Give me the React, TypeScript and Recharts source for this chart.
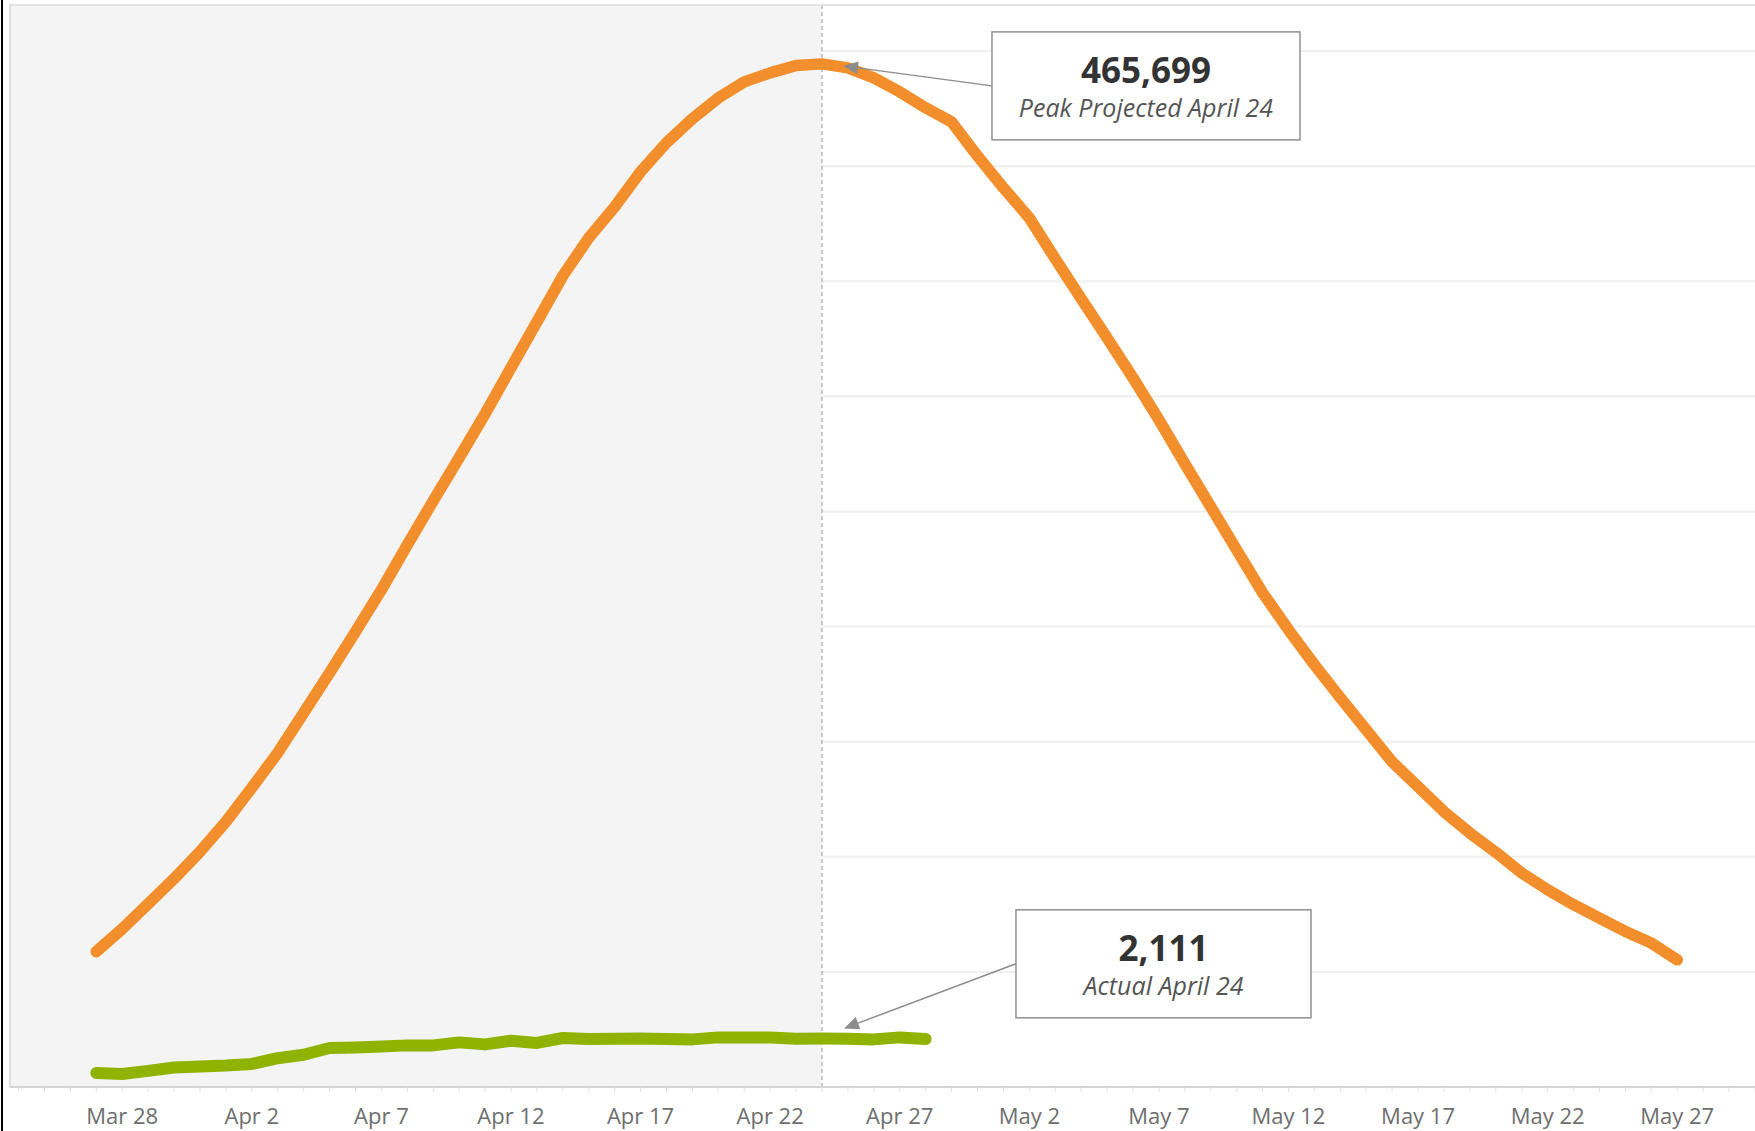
import { CartesianGrid, ComposedChart, Line, ReferenceArea, ReferenceDot, ReferenceLine, XAxis, YAxis } from 'recharts'

const dates = [
  'Mar 27', 'Mar 28', 'Mar 29', 'Mar 30', 'Mar 31',
  'Apr 1', 'Apr 2', 'Apr 3', 'Apr 4', 'Apr 5', 'Apr 6', 'Apr 7', 'Apr 8', 'Apr 9', 'Apr 10',
  'Apr 11', 'Apr 12', 'Apr 13', 'Apr 14', 'Apr 15', 'Apr 16', 'Apr 17', 'Apr 18', 'Apr 19', 'Apr 20',
  'Apr 21', 'Apr 22', 'Apr 23', 'Apr 24', 'Apr 25', 'Apr 26', 'Apr 27', 'Apr 28', 'Apr 29', 'Apr 30',
  'May 1', 'May 2', 'May 3', 'May 4', 'May 5', 'May 6', 'May 7', 'May 8', 'May 9', 'May 10',
  'May 11', 'May 12', 'May 13', 'May 14', 'May 15', 'May 16', 'May 17', 'May 18', 'May 19', 'May 20',
  'May 21', 'May 22', 'May 23', 'May 24', 'May 25', 'May 26', 'May 27',
]

// projected curve (orange), own hidden axis
const projected = [
  61600, 72000, 83400, 94800, 107100,
  120700, 136200, 152100, 170300, 188500, 207200, 226300, 246800, 266800, 286400,
  306400, 327400, 348300, 369200, 386500, 400600, 416600, 429800, 440700, 450200,
  457500, 461600, 465000, 465699, 463900, 459300, 453000, 445700, 439300, 423800,
  409300, 395600, 377000, 358800, 341000, 322800, 303700, 283700, 264100, 244500,
  225000, 208100, 192200, 177200, 162600, 148000, 136700, 125300, 115600, 106800,
  97400, 89800, 83000, 76900, 70800, 65500, 57900,
]

// actual (green), Mar 27 - Apr 28
const actual = [
  608, 565, 700, 850, 890,
  930, 1000, 1250, 1400, 1695, 1721, 1764, 1808, 1808, 1938,
  1851, 2012, 1912, 2129, 2086, 2099, 2112, 2086, 2068, 2155,
  2155, 2155, 2099, 2111, 2099, 2068, 2155, 2086,
]

const tickLabels = ['Mar 28', 'Apr 2', 'Apr 7', 'Apr 12', 'Apr 17', 'Apr 22', 'Apr 27', 'May 2', 'May 7', 'May 12', 'May 17', 'May 22', 'May 27']
const gridValues = [5000, 10000, 15000, 20000, 25000, 30000, 35000, 40000, 45000]

const peakDate = 'Apr 24'
const peakCaption = 'Peak Projected April 24'
const actualCaption = 'Actual April 24'

const data = dates.map((date, i) => ({
  day: i,
  date,
  projected: projected[i],
  actual: i < actual.length ? actual[i] : null,
}))

const peakDay = dates.indexOf(peakDate)
const dayTicks = Array.from({ length: 68 }, (_, i) => i - 3)

const ORANGE = '#f28e2b'
const GREEN = '#8fb300'
const ARROW = '#8c8c8c'

interface CalloutProps {
  cx: number
  cy: number
  boxDx: number
  boxDy: number
  width: number
  height: number
  tipDx: number
  tipDy: number
  value: string
  caption: string
}

function Callout({ cx, cy, boxDx, boxDy, width, height, tipDx, tipDy, value, caption }: CalloutProps) {
  const bx = cx + boxDx
  const by = cy + boxDy
  const sx = bx
  const sy = by + height / 2
  const tx = cx + tipDx
  const ty = cy + tipDy
  const ang = Math.atan2(ty - sy, tx - sx)
  const len = 15
  const half = 6.5
  const baseX = tx - len * Math.cos(ang)
  const baseY = ty - len * Math.sin(ang)
  const px = -Math.sin(ang) * half
  const py = Math.cos(ang) * half
  return (
    <g>
      <line x1={sx} y1={sy} x2={baseX} y2={baseY} stroke={ARROW} strokeWidth={1.5} />
      <polygon points={`${tx},${ty} ${baseX + px},${baseY + py} ${baseX - px},${baseY - py}`} fill={ARROW} />
      <rect x={bx} y={by} width={width} height={height} fill="#fff" stroke="#8f8f8f" strokeWidth={1.5} />
      <text x={bx + width / 2} y={by + 51} textAnchor="middle" fontSize={35} fontWeight={700} fill="#333">
        {value}
      </text>
      <text x={bx + width / 2} y={by + 85} textAnchor="middle" fontSize={25} fontStyle="italic" fill="#555">
        {caption}
      </text>
    </g>
  )
}

export default function App() {
  const peakValue = projected[peakDay]
  const actualValue = actual[peakDay]

  return (
    <div
      style={{
        position: 'absolute',
        left: 0,
        top: 0,
        width: 1755,
        height: 1131,
        background: '#fff',
        fontFamily: '"Open Sans", sans-serif',
        overflow: 'hidden',
      }}
    >
      <ComposedChart width={1755} height={1131} data={data} margin={{ top: 5, right: 0, left: 10, bottom: 0 }}>
        <CartesianGrid yAxisId="actual" vertical={false} stroke="#efefef" strokeWidth={2} />
        <ReferenceArea yAxisId="actual" x1={-3.33} x2={peakDay} fill="#f4f4f4" fillOpacity={1} stroke="none" ifOverflow="hidden" />
        <ReferenceLine yAxisId="actual" x={peakDay} stroke="#9a9a9a" strokeDasharray="4 3" strokeWidth={1} />
        <XAxis
          dataKey="day"
          type="number"
          domain={[-3.33, 64]}
          allowDataOverflow
          ticks={dayTicks}
          interval={0}
          height={44}
          tickSize={5}
          tickMargin={16}
          axisLine={{ stroke: '#d4d4d4', strokeWidth: 2 }}
          tickLine={{ stroke: '#e2e2e2' }}
          tick={{ fill: '#6e6e6e', fontSize: 22 }}
          tickFormatter={(v: number) => (tickLabels.includes(dates[v]) ? dates[v] : '')}
        />
        <YAxis yAxisId="actual" hide domain={[0, 47000]} ticks={gridValues} allowDataOverflow />
        <YAxis yAxisId="projected" hide domain={[0, 492500]} allowDataOverflow />
        <Line
          yAxisId="projected"
          dataKey="projected"
          type="linear"
          stroke={ORANGE}
          strokeWidth={11.5}
          strokeLinecap="round"
          strokeLinejoin="round"
          dot={false}
          activeDot={false}
          isAnimationActive={false}
        />
        <Line
          yAxisId="actual"
          dataKey="actual"
          type="linear"
          stroke={GREEN}
          strokeWidth={12}
          strokeLinecap="round"
          strokeLinejoin="round"
          dot={false}
          activeDot={false}
          connectNulls={false}
          isAnimationActive={false}
        />
        <ReferenceDot
          yAxisId="projected"
          x={peakDay}
          y={peakValue}
          shape={(p: any) => (
            <Callout
              cx={p.cx}
              cy={p.cy}
              boxDx={170}
              boxDy={-32}
              width={308}
              height={108}
              tipDx={21}
              tipDy={2}
              value={peakValue.toLocaleString('en-US')}
              caption={peakCaption}
            />
          )}
        />
        <ReferenceDot
          yAxisId="actual"
          x={peakDay}
          y={actualValue}
          shape={(p: any) => (
            <Callout
              cx={p.cx}
              cy={p.cy}
              boxDx={194}
              boxDy={-128.6}
              width={295}
              height={108}
              tipDx={22}
              tipDy={-10}
              value={actualValue.toLocaleString('en-US')}
              caption={actualCaption}
            />
          )}
        />
      </ComposedChart>
      {/* frame lines */}
      <div style={{ position: 'absolute', left: 1, top: 0, width: 2, height: 1131, background: '#000' }} />
      <div style={{ position: 'absolute', left: 10, top: 4, width: 1745, height: 2, background: '#e2e2e2' }} />
      <div style={{ position: 'absolute', left: 9, top: 4, width: 2, height: 1083, background: '#dedede' }} />
    </div>
  )
}
